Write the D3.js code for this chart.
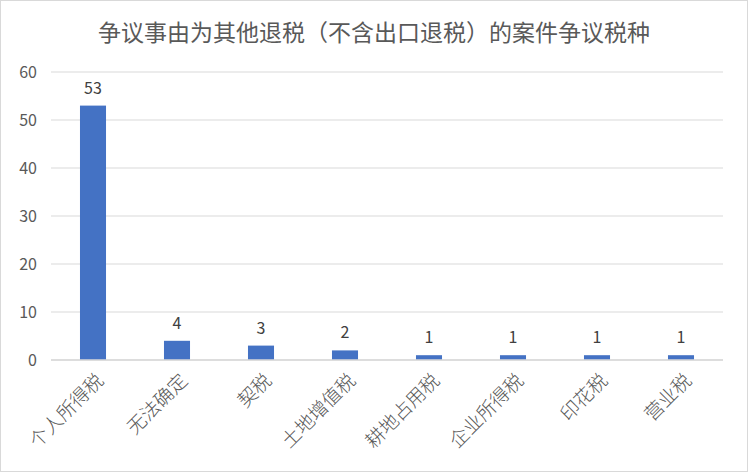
<!DOCTYPE html>
<html>
<head>
<meta charset="utf-8">
<script src="https://cdn.jsdelivr.net/npm/d3@7"></script>
<style>
  body { margin: 0; background: #fff; }
  svg { display: block; }
</style>
</head>
<body>
<svg id="chart" width="748" height="472"></svg>
<script>
const title = "争议事由为其他退税（不含出口退税）的案件争议税种";
const categories = ["个人所得税", "无法确定", "契税", "土地增值税", "耕地占用税", "企业所得税", "印花税", "营业税"];
const counts = [53, 4, 3, 2, 1, 1, 1, 1];
const yTicks = [0, 10, 20, 30, 40, 50, 60];

const margin = {left: 51, right: 25, top: 72, bottom: 112};
const W = 748, H = 472;
const width = W - margin.left - margin.right;
const height = H - margin.top - margin.bottom;
const font = "'Microsoft YaHei', 'Noto Sans CJK SC', sans-serif";

const svg = d3.select("#chart");

svg.append("rect")
    .attr("x", 0.5).attr("y", 0.5)
    .attr("width", W - 1).attr("height", H - 1)
    .attr("fill", "#fff")
    .attr("stroke", "#d9d9d9")

svg.append("text")
    .text(title)
    .attr("x", W / 2)
    .attr("y", 41)
    .attr("text-anchor", "middle")
    .attr("font-family", font)
    .attr("font-size", 23)
    .attr("fill", "#595959")

const xScale = d3.scaleBand()
    .domain(categories)
    .range([0, width])
    .paddingInner(0.69)
    .paddingOuter(0.345);

const yScale = d3.scaleLinear()
    .domain([0, 60])
    .range([height, 0]);

const g = svg.append("g")
    .attr("transform", `translate(${margin.left}, ${margin.top})`)

// gridlines
g.selectAll(".grid")
    .data(yTicks)
    .join("line")
    .attr("x1", 0).attr("x2", width)
    .attr("y1", d => yScale(d)).attr("y2", d => yScale(d))
    .attr("stroke", "#d9d9d9")
    .attr("stroke-width", 1)

const yaxis = g.append("g")
    .call(d3.axisLeft(yScale).tickValues(yTicks).tickSize(0).tickPadding(14))
yaxis.select(".domain").remove();
yaxis.selectAll("text")
    .attr("font-family", font)
    .attr("font-size", 16)
    .attr("fill", "#595959")

g.selectAll(".bar")
    .data(counts)
    .join("rect")
    .attr("x", (d, i) => xScale(categories[i]))
    .attr("y", d => yScale(d))
    .attr("width", xScale.bandwidth())
    .attr("height", d => height - yScale(d))
    .attr("fill", "#4472c4")

g.selectAll(".lbl")
    .data(counts)
    .join("text")
    .text(d => d)
    .attr("x", (d, i) => xScale(categories[i]) + xScale.bandwidth() / 2)
    .attr("y", d => yScale(d) - 12)
    .attr("text-anchor", "middle")
    .attr("font-family", font)
    .attr("font-size", 16)
    .attr("fill", "#404040")

// x axis line
g.append("line")
    .attr("x1", 0).attr("x2", width)
    .attr("y1", height).attr("y2", height)
    .attr("stroke", "#d9d9d9")
    .attr("stroke-width", 1.5)

const xaxis = g.append("g")
    .attr("transform", `translate(0, ${height})`)
    .call(d3.axisBottom(xScale).tickSize(0).tickPadding(0))
xaxis.select(".domain").remove();
xaxis.selectAll("text")
    .attr("font-family", font)
    .attr("font-size", 19)
    .attr("font-weight", 300)
    .attr("fill", "#595959")
    .attr("text-anchor", "end")
    .attr("dy", "0.35em")
    .attr("transform", "translate(7, 17) rotate(-45)")
</script>
</body>
</html>
